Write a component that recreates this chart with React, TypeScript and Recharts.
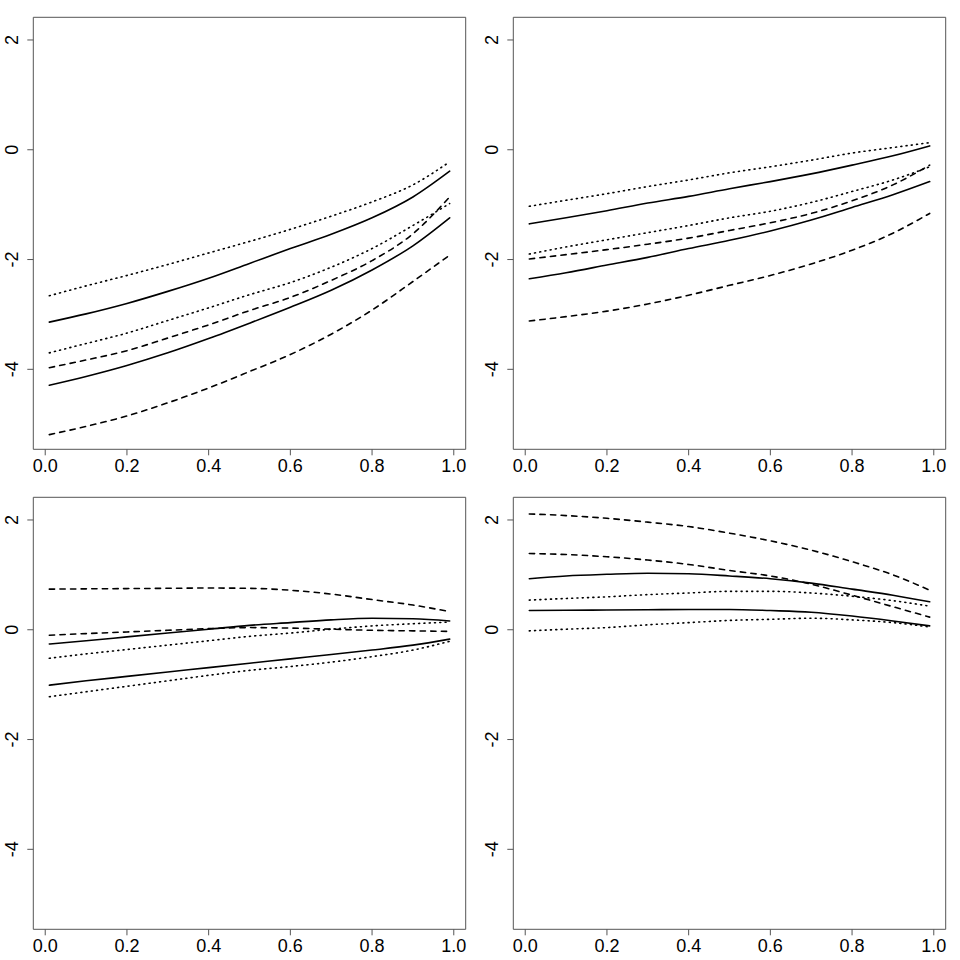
import { LineChart, Line, XAxis, YAxis, ReferenceArea } from 'recharts';

const xs = [0.01, 0.1, 0.2, 0.3, 0.4, 0.5, 0.6, 0.7, 0.8, 0.9, 0.99];

const xTicks = [0, 0.2, 0.4, 0.6, 0.8, 1];
const yTicks = [-4, -2, 0, 2];
const xDomain: [number, number] = [-0.0292, 1.0292];
const yDomain: [number, number] = [-5.457, 2.413];

// top-left panel
const aDottedHi = [-2.66, -2.48, -2.29, -2.09, -1.88, -1.67, -1.45, -1.21, -0.95, -0.64, -0.22];
const aSolidHi = [-3.14, -2.99, -2.8, -2.58, -2.34, -2.07, -1.8, -1.54, -1.24, -0.86, -0.39];
const aDottedLo = [-3.7, -3.53, -3.34, -3.11, -2.88, -2.64, -2.42, -2.14, -1.8, -1.38, -0.98];
const aDashedHi = [-3.97, -3.83, -3.66, -3.43, -3.19, -2.93, -2.69, -2.38, -2.02, -1.53, -0.86];
const aSolidLo = [-4.29, -4.13, -3.93, -3.7, -3.44, -3.16, -2.87, -2.56, -2.19, -1.75, -1.24];
const aDashedLo = [-5.19, -5.04, -4.85, -4.61, -4.34, -4.04, -3.73, -3.36, -2.92, -2.4, -1.92];

// top-right panel
const bDottedHi = [-1.03, -0.92, -0.8, -0.67, -0.55, -0.42, -0.31, -0.19, -0.06, 0.04, 0.13];
const bSolidHi = [-1.35, -1.24, -1.11, -0.97, -0.85, -0.71, -0.58, -0.44, -0.28, -0.11, 0.07];
const bDottedLo = [-1.9, -1.77, -1.64, -1.51, -1.38, -1.24, -1.12, -0.96, -0.76, -0.55, -0.31];
const bDashedHi = [-1.99, -1.91, -1.82, -1.72, -1.61, -1.47, -1.33, -1.16, -0.93, -0.64, -0.28];
const bSolidLo = [-2.35, -2.24, -2.1, -1.96, -1.8, -1.65, -1.48, -1.28, -1.05, -0.82, -0.58];
const bDashedLo = [-3.12, -3.04, -2.94, -2.81, -2.65, -2.47, -2.29, -2.08, -1.83, -1.52, -1.16];

// bottom-left panel
const cDashedHi = [0.74, 0.745, 0.75, 0.755, 0.76, 0.755, 0.72, 0.65, 0.55, 0.45, 0.33];
const cDashedLo = [-0.1, -0.07, -0.04, -0.01, 0.02, 0.04, 0.03, 0.01, -0.01, -0.02, -0.03];
const cSolidHi = [-0.26, -0.2, -0.13, -0.06, 0.01, 0.08, 0.13, 0.18, 0.21, 0.2, 0.16];
const cDottedHi = [-0.52, -0.44, -0.36, -0.28, -0.2, -0.12, -0.06, 0.01, 0.07, 0.11, 0.14];
const cSolidLo = [-1.01, -0.93, -0.85, -0.77, -0.69, -0.61, -0.53, -0.45, -0.37, -0.28, -0.17];
const cDottedLo = [-1.22, -1.13, -1.03, -0.93, -0.83, -0.74, -0.67, -0.59, -0.49, -0.37, -0.21];

// bottom-right panel
const dDashedHi = [2.11, 2.08, 2.03, 1.96, 1.88, 1.76, 1.62, 1.45, 1.24, 1.0, 0.72];
const dDashedLo = [1.39, 1.37, 1.33, 1.27, 1.19, 1.08, 0.98, 0.83, 0.63, 0.42, 0.23];
const dSolidHi = [0.93, 0.98, 1.01, 1.03, 1.02, 0.98, 0.93, 0.85, 0.74, 0.63, 0.51];
const dDottedHi = [0.54, 0.57, 0.6, 0.64, 0.67, 0.7, 0.7, 0.67, 0.61, 0.53, 0.43];
const dSolidLo = [0.35, 0.355, 0.36, 0.365, 0.37, 0.37, 0.35, 0.32, 0.25, 0.16, 0.07];
const dDottedLo = [-0.02, 0.01, 0.04, 0.09, 0.13, 0.17, 0.19, 0.21, 0.18, 0.13, 0.05];

type Lty = 'solid' | 'dashed' | 'dotted';

interface Series {
  key: string;
  values: number[];
  lty: Lty;
}

// R's lty 2 ("44") and lty 3 ("13"), drawn with round caps
const DASH: Record<Lty, string | undefined> = {
  solid: undefined,
  dashed: '5.3 5.3',
  dotted: '1 4.3',
};

const FONT = '"Liberation Sans", Arial, Helvetica, sans-serif';
const AXIS_COLOR = '#555';

function XTick(props: any) {
  const { x, y, payload } = props;
  return (
    <text x={x} y={y} dy={17} textAnchor="middle" fontSize={18} fontFamily={FONT} fill="#000">
      {Number(payload.value).toFixed(1)}
    </text>
  );
}

function YTick(props: any) {
  const { x, y, payload } = props;
  const tx = x - 8.8;
  return (
    <text
      x={tx}
      y={y}
      transform={`rotate(-90, ${tx}, ${y})`}
      textAnchor="middle"
      fontSize={18}
      fontFamily={FONT}
      fill="#000"
    >
      {String(payload.value)}
    </text>
  );
}

function Panel({ series, left, top }: { series: Series[]; left: number; top: number }) {
  const data = xs.map((x, i) => {
    const row: Record<string, number> = { x };
    series.forEach((s) => {
      row[s.key] = s.values[i];
    });
    return row;
  });

  return (
    <div style={{ position: 'absolute', left, top, width: 480, height: 480 }}>
      <LineChart width={480} height={480} data={data} margin={{ top: 17.3, right: 14.3, bottom: 0, left: 0 }}>
        <XAxis
          dataKey="x"
          type="number"
          domain={xDomain}
          ticks={xTicks}
          allowDataOverflow
          height={30.7}
          axisLine={false}
          tickLine={{ stroke: AXIS_COLOR, strokeWidth: 1 }}
          tickSize={6}
          tickMargin={0}
          tick={XTick}
          interval={0}
        />
        <YAxis
          type="number"
          domain={yDomain}
          ticks={yTicks}
          allowDataOverflow
          width={33.3}
          axisLine={false}
          tickLine={{ stroke: AXIS_COLOR, strokeWidth: 1 }}
          tickSize={6}
          tickMargin={0}
          tick={YTick}
          interval={0}
        />
        {series.map((s) => (
          <Line
            key={s.key}
            dataKey={s.key}
            type="monotone"
            stroke="#000"
            strokeWidth={1.6}
            strokeDasharray={DASH[s.lty]}
            strokeLinecap="round"
            dot={false}
            activeDot={false}
            isAnimationActive={false}
          />
        ))}
        {/* plot frame, like R's box() */}
        <ReferenceArea
          x1={xDomain[0]}
          x2={xDomain[1]}
          y1={yDomain[0]}
          y2={yDomain[1]}
          fill="none"
          fillOpacity={0}
          stroke={AXIS_COLOR}
          strokeWidth={1}
          ifOverflow="visible"
        />
      </LineChart>
    </div>
  );
}

const panelA: Series[] = [
  { key: 'dottedHi', values: aDottedHi, lty: 'dotted' },
  { key: 'solidHi', values: aSolidHi, lty: 'solid' },
  { key: 'dottedLo', values: aDottedLo, lty: 'dotted' },
  { key: 'dashedHi', values: aDashedHi, lty: 'dashed' },
  { key: 'solidLo', values: aSolidLo, lty: 'solid' },
  { key: 'dashedLo', values: aDashedLo, lty: 'dashed' },
];

const panelB: Series[] = [
  { key: 'dottedHi', values: bDottedHi, lty: 'dotted' },
  { key: 'solidHi', values: bSolidHi, lty: 'solid' },
  { key: 'dottedLo', values: bDottedLo, lty: 'dotted' },
  { key: 'dashedHi', values: bDashedHi, lty: 'dashed' },
  { key: 'solidLo', values: bSolidLo, lty: 'solid' },
  { key: 'dashedLo', values: bDashedLo, lty: 'dashed' },
];

const panelC: Series[] = [
  { key: 'dashedHi', values: cDashedHi, lty: 'dashed' },
  { key: 'dashedLo', values: cDashedLo, lty: 'dashed' },
  { key: 'solidHi', values: cSolidHi, lty: 'solid' },
  { key: 'dottedHi', values: cDottedHi, lty: 'dotted' },
  { key: 'solidLo', values: cSolidLo, lty: 'solid' },
  { key: 'dottedLo', values: cDottedLo, lty: 'dotted' },
];

const panelD: Series[] = [
  { key: 'dashedHi', values: dDashedHi, lty: 'dashed' },
  { key: 'dashedLo', values: dDashedLo, lty: 'dashed' },
  { key: 'solidHi', values: dSolidHi, lty: 'solid' },
  { key: 'dottedHi', values: dDottedHi, lty: 'dotted' },
  { key: 'solidLo', values: dSolidLo, lty: 'solid' },
  { key: 'dottedLo', values: dDottedLo, lty: 'dotted' },
];

export default function App() {
  return (
    <div style={{ position: 'absolute', left: 0, top: 0, width: 960, height: 960, background: '#fff' }}>
      <Panel series={panelA} left={0} top={0} />
      <Panel series={panelB} left={480} top={0} />
      <Panel series={panelC} left={0} top={480} />
      <Panel series={panelD} left={480} top={480} />
    </div>
  );
}
